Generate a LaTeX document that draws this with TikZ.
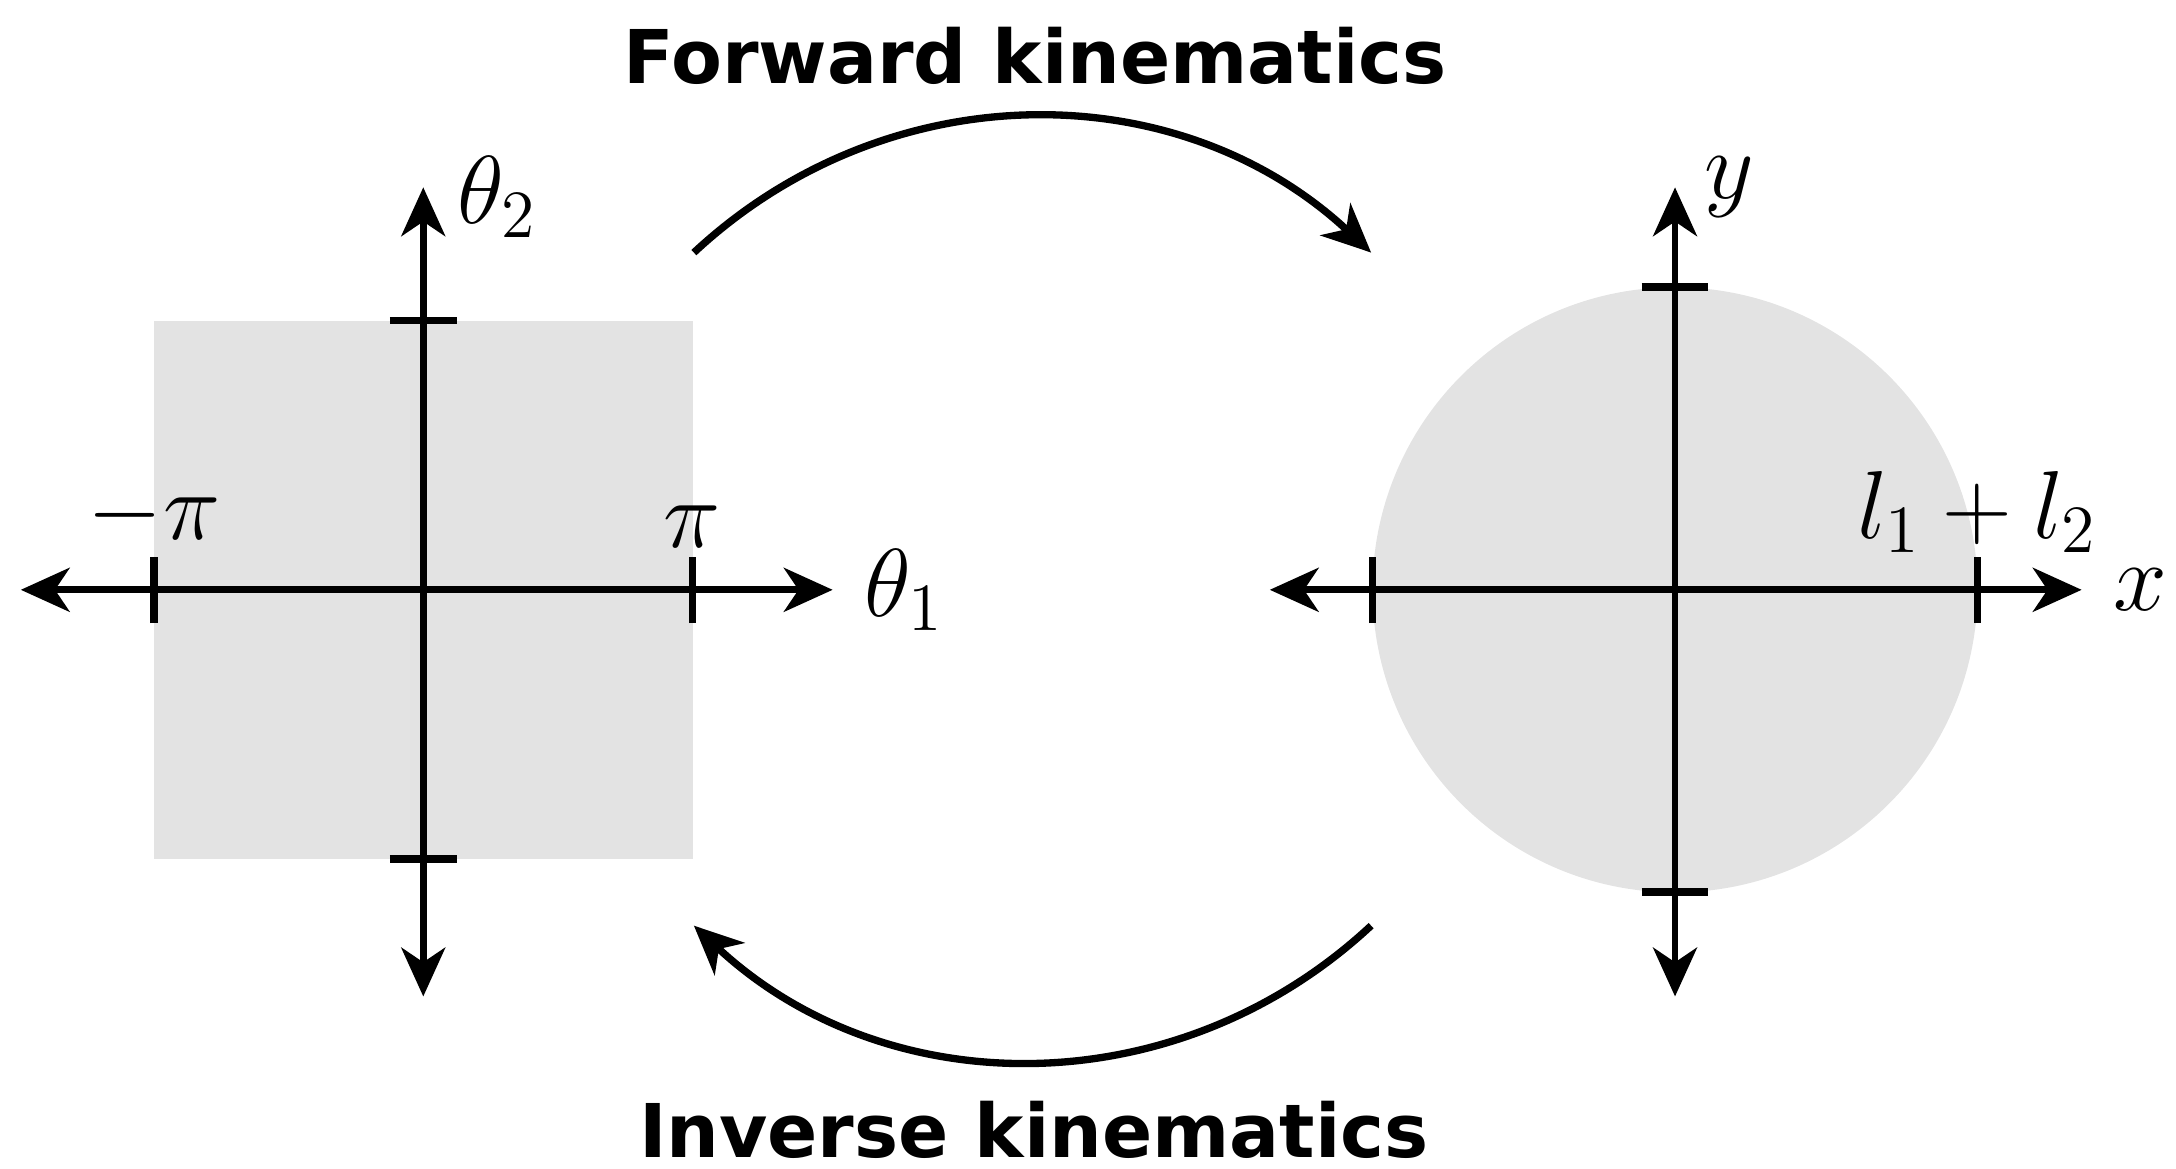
\RequirePackage{fix-cm}
\documentclass[tikz,border=0pt]{standalone}
\usepackage{fontspec}
\newfontfamily\fuentetitulo{DejaVu Sans}
\usetikzlibrary{arrows.meta}

\begin{document}
\begin{tikzpicture}
  % Definir estilos
  \tikzset{
    eje/.style={>={Stealth[length=10pt,width=9pt,inset=3pt]}, line width=1.4pt, <->},
    flecha_curva/.style={>={Stealth[length=10pt,width=9pt,inset=3pt]}, line width=1.5pt, ->},
    marca/.style={line width=1.6pt},
    region/.style={fill=gray!22},
    etiqueta/.style={font=\fontsize{19.8}{24}\selectfont},
    titulo/.style={font=\fuentetitulo\bfseries\fontsize{15.2}{18}\selectfont, inner sep=0pt}
  }

  % Marco de la figura
  \useasboundingbox (0,0) rectangle (15.68,-8.42);

  % Espacio articular
  \begin{scope}[shift={(3.05,-4.25)}]
    \fill[region] (-1.94,-1.94) rectangle (1.94,1.94);
    \draw[eje] (-2.9,0) -- (2.95,0) node[right, etiqueta, xshift=2.5pt] (theta1) {$\theta_1$};
    \draw[eje] (0,-2.93) -- (0,2.9) node[right, etiqueta, xshift=3pt, yshift=-2pt] (theta2) {$\theta_2$};
    % Marcas de los limites
    \draw[marca] (-1.94,-0.24) -- (-1.94,0.24) node[above, etiqueta, inner sep=1pt] (menos_pi) {$-\pi$};
    \draw[marca] (1.94,-0.24) -- (1.94,0.24) node[above, etiqueta, inner sep=1pt] (mas_pi) {$\pi$};
    \draw[marca] (-0.24,1.94) -- (0.24,1.94);
    \draw[marca] (-0.24,-1.94) -- (0.24,-1.94);
  \end{scope}

  % Espacio cartesiano
  \begin{scope}[shift={(12.07,-4.25)}]
    \fill[region] (0,0) circle (2.18);
    \draw[eje] (-2.92,0) -- (2.93,0) node[right, etiqueta, xshift=2.5pt] (eje_x) {$x$};
    \draw[eje] (0,-2.93) -- (0,2.9) node[right, etiqueta, xshift=2pt] (eje_y) {$y$};
    % Marcas del alcance
    \draw[marca] (-2.18,-0.24) -- (-2.18,0.24);
    \draw[marca] (2.18,-0.24) -- (2.18,0.24) node[above, etiqueta, inner sep=0pt] (alcance) {$l_1 + l_2$};
    \draw[marca] (-0.24,2.18) -- (0.24,2.18);
    \draw[marca] (-0.24,-2.18) -- (0.24,-2.18);
  \end{scope}

  % Flechas entre espacios
  \coordinate (fk_ini) at (5.00,-1.82);
  \coordinate (fk_fin) at (9.88,-1.82);
  \coordinate (ik_ini) at (9.88,-6.67);
  \coordinate (ik_fin) at (5.00,-6.67);
  \draw[flecha_curva] (fk_ini) to[bend left=43] (fk_fin);
  \draw[flecha_curva] (ik_ini) to[bend left=43] (ik_fin);

  % Titulos
  \node[titulo] (directa) at (7.46,-0.40) {Forward kinematics};
  \node[titulo] (inversa) at (7.45,-8.14) {Inverse kinematics};
\end{tikzpicture}
\end{document}
